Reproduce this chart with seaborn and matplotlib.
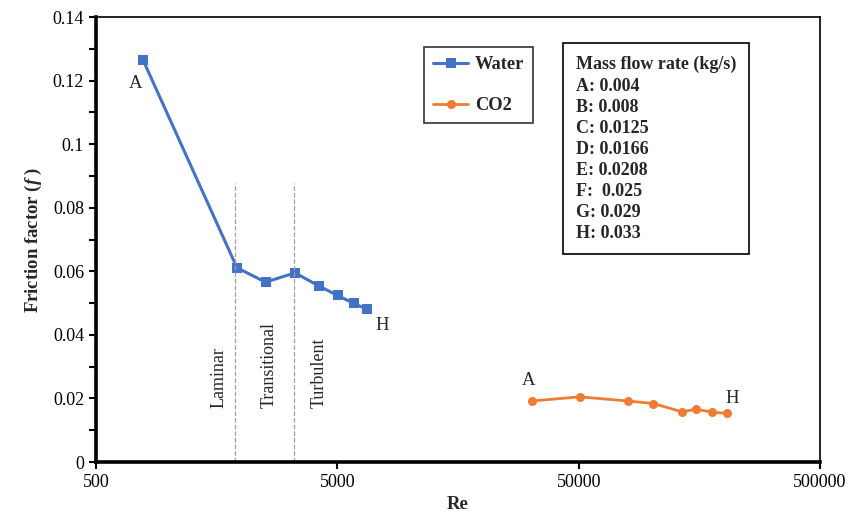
from matplotlib import pyplot as plt
from matplotlib.ticker import FixedLocator, FixedFormatter, MultipleLocator
from matplotlib.lines import Line2D
import seaborn as sns
import pandas as pd

# values
points = ['A', 'B', 'C', 'D', 'E', 'F', 'G', 'H']
water_re = [783, 1920, 2520, 3340, 4190, 5010, 5850, 6620]
water_f = [0.1265, 0.0611, 0.0566, 0.0595, 0.0554, 0.0524, 0.0499, 0.0481]
co2_re = [31900, 50500, 80100, 102000, 134000, 153000, 179000, 205000]
co2_f = [0.0192, 0.0205, 0.0192, 0.0184, 0.0158, 0.0166, 0.0157, 0.0153]
flow_rates = ['0.004', '0.008', '0.0125', '0.0166', '0.0208', ' 0.025', '0.029', '0.033']
regime_bounds = [1890, 3310]
regime_names = ['Laminar', 'Transitional', 'Turbulent']
regime_pos = [1620, 2600, 4200]
x_ticks = [500, 5000, 50000, 500000]

water_col = '#4472C4'
co2_col = '#ED7D31'

sns.set_style('white')
plt.rcParams['font.family'] = ['Liberation Serif', 'DejaVu Serif']
plt.rcParams['mathtext.fontset'] = 'custom'
plt.rcParams['mathtext.it'] = 'Liberation Serif:italic:bold'
plt.rcParams['mathtext.rm'] = 'Liberation Serif:bold'

water = pd.DataFrame({'Re': water_re, 'f': water_f})
co2 = pd.DataFrame({'Re': co2_re, 'f': co2_f})

fig = plt.figure(figsize=(8.48, 5.2), dpi=100)
ax = fig.add_axes([0.1132, 0.1115, 0.8538, 0.8558])

sns.lineplot(data=water, x='Re', y='f', sort=False, color=water_col, lw=2.2,
             marker='s', markersize=7.5, markeredgewidth=0, ax=ax)
sns.lineplot(data=co2, x='Re', y='f', sort=False, color=co2_col, lw=2,
             marker='o', markersize=6.5, markeredgewidth=0, ax=ax)

ax.set_xscale('log')
ax.set_xlim(500, 500000)
ax.set_ylim(0, 0.14)
ax.xaxis.set_major_locator(FixedLocator(x_ticks))
ax.xaxis.set_major_formatter(FixedFormatter([str(t) for t in x_ticks]))
ax.xaxis.set_minor_locator(FixedLocator([]))
ax.yaxis.set_minor_locator(MultipleLocator(0.01))
ax.set_yticks([0, 0.02, 0.04, 0.06, 0.08, 0.1, 0.12, 0.14])
ax.set_yticklabels(['0', '0.02', '0.04', '0.06', '0.08', '0.1', '0.12', '0.14'])
ax.tick_params(axis='both', which='both', direction='out', labelsize=13,
               length=5, width=1.5, colors='black', bottom=True, left=True)
ax.tick_params(axis='y', which='minor', length=5, width=1.5)

for side in ['left', 'bottom']:
    ax.spines[side].set_linewidth(2.6)
    ax.spines[side].set_color('black')
for side in ['top', 'right']:
    ax.spines[side].set_linewidth(1.2)
    ax.spines[side].set_color('black')

ax.set_xlabel('Re', fontsize=13.5, fontweight='bold')
ax.set_ylabel(r'Friction factor ($f$ )', fontsize=13.5, fontweight='bold', labelpad=6)

# regime boundaries
for b in regime_bounds:
    ax.plot([b, b], [0, 0.0878], color='#A0A0A0', lw=0.9, ls='--')
for name, xp in zip(regime_names, regime_pos):
    ax.text(xp, 0.017, name, rotation=90, ha='center', va='bottom', fontsize=13)

# point labels
ax.text(730, 0.119, 'A', ha='center', va='center', fontsize=13.5)
ax.text(7660, 0.0431, 'H', ha='center', va='center', fontsize=13.5)
ax.text(30900, 0.0258, 'A', ha='center', va='center', fontsize=13.5)
ax.text(217000, 0.0201, 'H', ha='center', va='center', fontsize=13.5)

handles = [Line2D([], [], color=water_col, lw=2.2, marker='s', markersize=7.5, markeredgewidth=0),
           Line2D([], [], color=co2_col, lw=2, marker='o', markersize=6.5, markeredgewidth=0)]
leg = ax.legend(handles, ['Water', 'CO2'], loc='upper left', bbox_to_anchor=(0.453, 0.933),
                prop={'family': 'Liberation Serif', 'weight': 'bold', 'size': 13.3},
                frameon=True, fancybox=False, edgecolor='black', handlelength=1.9,
                labelspacing=1.3, borderpad=0.5, borderaxespad=0, handletextpad=0.35)
leg.get_frame().set_linewidth(1.2)

info = 'Mass flow rate (kg/s)\n' + '\n'.join(f'{p}: {r}' for p, r in zip(points, flow_rates))
ax.text(0.6623, 0.912, info, transform=ax.transAxes, ha='left', va='top',
        fontsize=13, fontweight='bold', linespacing=1.31,
        bbox=dict(boxstyle='square,pad=0.7', fc='white', ec='black', lw=1.2))

fig.savefig('out.png', dpi=100)
